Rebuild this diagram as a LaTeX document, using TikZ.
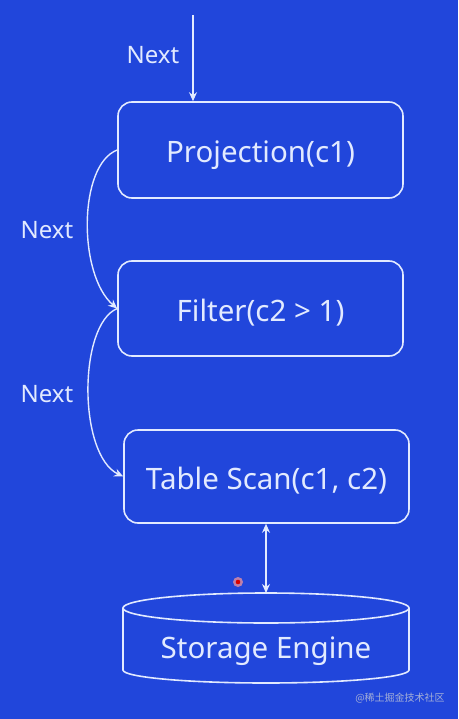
\documentclass[tikz,border=0pt]{standalone}
\usepackage{fontspec}
\setmainfont{Noto Sans}
\newfontfamily\cjk{Noto Sans CJK SC}
\usetikzlibrary{arrows.meta}
\definecolor{bgblue}{RGB}{33,70,219}
\definecolor{fg}{RGB}{226,234,255}
\definecolor{wm}{RGB}{165,175,215}
\tikzset{
  opbox/.style={draw=fg, line width=1.6pt, rounded corners=14pt, minimum width=285pt, text=fg, font=\fontsize{29.5}{32}\selectfont, text height=25pt, text depth=0pt},
  lbl/.style={text=fg, font=\fontsize{24}{28}\selectfont},
  conn/.style={draw=fg, line width=1.4pt, -{Stealth[length=9pt,width=8pt]}},
  dconn/.style={draw=fg, line width=1.4pt, {Stealth[length=9pt,width=8pt]}-{Stealth[length=9pt,width=8pt]}}
}
\begin{document}
\begin{tikzpicture}
\fill[bgblue] (0,0) rectangle (458pt,-719pt);
\useasboundingbox (0,0) rectangle (458pt,-719pt);
\begin{scope}[x=1pt,y=1pt]
\node[opbox, minimum height=96pt] (proj) at (260.5,-150) {Projection(c1)};
\node[opbox, minimum height=95pt] (filt) at (260.5,-308.5) {Filter(c2 > 1)};
\node[opbox, minimum height=93pt] (scan) at (266.5,-476.5) {Table Scan(c1, c2)};
% cylinder
\draw[fg, line width=1.6pt] (266,-608) ellipse [x radius=143pt, y radius=15pt];
\draw[fg, line width=1.6pt] (123,-608) -- (123,-670) arc[start angle=180, end angle=360, x radius=143pt, y radius=13pt] -- (409,-608);
\node[text=fg, font=\fontsize{29.5}{32}\selectfont, anchor=base] (storage) at (266,-658) {Storage Engine};
\coordinate (stortop) at (266,-593);
\coordinate (top) at (193,-15);
% connectors
\draw[conn] (top) -- (proj.north -| top);
\draw[conn] (proj.west) .. controls (78,-165) and (78,-275) .. (filt.west);
\draw[conn] (filt.west) .. controls (78,-325) and (78,-455) .. (scan.west);
\draw[dconn] (scan.south -| stortop) -- (stortop);
% labels
\node[lbl] (n1) at (153,-55) {Next};
\node[lbl] (n2) at (47,-230) {Next};
\node[lbl] (n3) at (47,-394) {Next};
% pointer dot
\fill[red!40, opacity=0.7] (238,-582) circle (5pt);
\fill[red!85!black] (238,-582) circle (2.3pt);
% watermark
\node[text=wm, font=\cjk\fontsize{10}{12}\selectfont] (wmark) at (400,-698) {@稀土掘金技术社区};
\end{scope}
\end{tikzpicture}
\end{document}
